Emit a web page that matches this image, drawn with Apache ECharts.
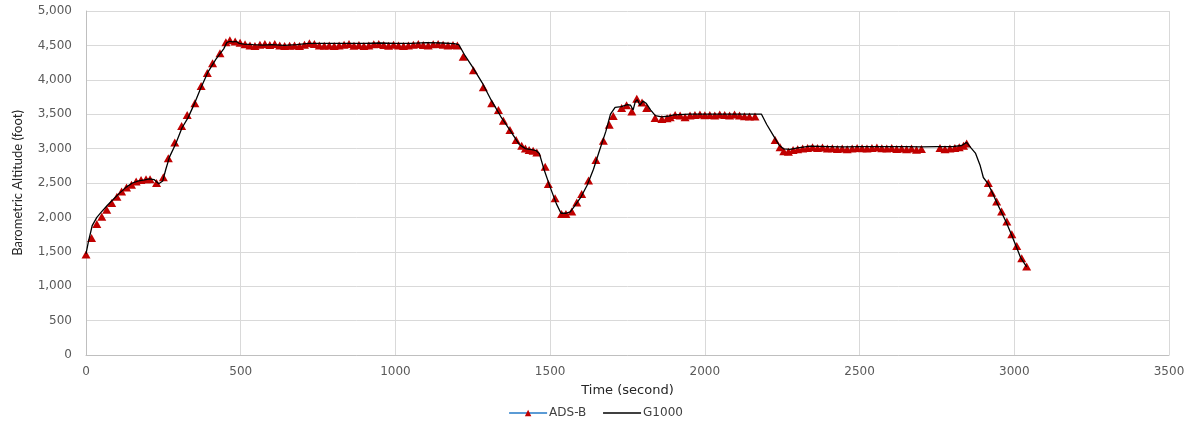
<!DOCTYPE html>
<html>
<head>
<meta charset="utf-8">
<script src="https://cdn.jsdelivr.net/npm/echarts@6/dist/echarts.min.js"></script>
<style>html,body{margin:0;padding:0;background:#fff;}#c{width:1191px;height:426px;}</style>
</head>
<body>
<div id="c"></div>
<script>
// ADS-B samples (time in seconds, barometric altitude in feet)
const adsbTime = [0,18,35,51,67,83,100,115,131,147,162,178,194,207,228,250,266,287,309,327,352,372,392,409,433,452,465,482,
498,514,530,546,562,578,594,610,626,642,658,674,690,706,722,738,754,770,786,802,818,834,850,866,882,898,914,930,946,962,978,994,1010,1026,1042,1058,1074,1090,1106,1122,1138,1154,1170,1186,1200,
1219,1252,1284,1311,1333,1349,1370,1390,1408,1420,1432,1445,1457,1484,1494,1516,1537,1551,1570,1586,1602,1624,1648,1672,1691,1704,1731,1747,1764,1780,1797,1812,1839,1861,1878,1888,1904,1920,1936,1952,1968,1984,2000,2016,2032,2048,2064,2080,2096,2112,2128,2144,2162,
2227,2243,2255,2270,2285,2300,2316,2332,2348,2364,2380,2396,2412,2428,2444,2460,2476,2492,2508,2524,2540,2556,2572,2588,2604,2620,2636,2652,2668,2684,2700,2760,2776,2792,2808,2822,2836,2846,
2916,2927,2943,2959,2976,2992,3008,3024,3040];
const adsbAlt = [1460,1700,1905,2010,2110,2210,2300,2375,2435,2475,2520,2545,2555,2555,2500,2585,2860,3090,3330,3490,3660,3910,4100,4240,4385,4545,4575,4555,
4540,4515,4500,4490,4510,4520,4505,4520,4500,4490,4495,4500,4490,4510,4530,4520,4500,4495,4500,4490,4500,4510,4520,4495,4505,4490,4500,4515,4520,4505,4495,4510,4500,4490,4500,4510,4520,4505,4500,4515,4520,4510,4500,4505,4500,
4335,4140,3890,3660,3560,3405,3270,3125,3040,3000,2980,2970,2945,2735,2485,2280,2050,2050,2085,2215,2340,2535,2835,3115,3345,3475,3590,3630,3540,3725,3670,3590,3445,3430,3440,3455,3490,3480,3455,3480,3490,3495,3485,3490,3480,3495,3490,3480,3495,3480,3470,3465,3465,
3125,3020,2960,2955,2980,2990,3000,3010,3020,3010,3015,3000,3005,2995,3000,2990,3000,3010,3005,3000,3010,3015,3005,3000,3010,2995,3000,2990,3000,2985,2995,3010,2990,3000,3010,3020,3040,3075,
2500,2360,2230,2085,1940,1755,1585,1405,1285];

// G1000 recorded trace
const g1000Time = [0,8,20,35,50,70,90,110,130,150,170,190,205,220,235,248,258,270,290,310,330,350,370,395,420,445,455,465,475,485,495,510,540,570,600,640,680,720,760,800,850,900,950,1000,1050,1100,1150,1190,1205,1225,1250,1280,1310,1340,1370,1400,1420,1440,1455,1465,1480,1500,1520,1535,1550,1565,1580,1600,1620,1640,1660,1680,1695,1710,1730,1750,1760,1768,1775,1782,1790,1800,1810,1825,1840,1860,1880,1900,1950,2000,2050,2100,2150,2183,2200,2220,2240,2255,2275,2300,2340,2400,2450,2500,2550,2600,2650,2700,2750,2800,2830,2846,2860,2875,2890,2900,2915,2930,2945,2960,2975,2990,3005,3020,3040];
const g1000Alt = [1470,1650,1880,2000,2080,2180,2270,2360,2440,2500,2530,2545,2560,2550,2490,2530,2700,2880,3070,3300,3450,3650,3870,4120,4300,4450,4540,4560,4550,4560,4530,4520,4510,4505,4510,4500,4510,4530,4530,4530,4530,4530,4535,4530,4530,4540,4535,4525,4510,4350,4180,3960,3700,3470,3270,3060,3000,2985,2970,2930,2700,2440,2200,2060,2060,2080,2170,2300,2470,2700,2980,3250,3500,3600,3610,3640,3630,3560,3680,3710,3630,3690,3660,3560,3480,3460,3470,3490,3500,3500,3500,3500,3500,3500,3350,3200,3050,2995,2990,3010,3035,3030,3025,3030,3030,3030,3030,3025,3030,3030,3045,3090,3010,2930,2750,2580,2490,2350,2200,2060,1920,1760,1590,1420,1280];

const yTicks = [0,500,1000,1500,2000,2500,3000,3500,4000,4500,5000];
const xTicks = [0,500,1000,1500,2000,2500,3000,3500];

const adsbData = adsbTime.map((t, i) => [t, adsbAlt[i]]);
const g1000Data = g1000Time.map((t, i) => [t, g1000Alt[i]]);

const chart = echarts.init(document.getElementById('c'), null, {renderer: 'canvas'});
const tickFont = 'DejaVu Sans';
chart.setOption({
  animation: false,
  backgroundColor: '#ffffff',
  grid: {left: 86, right: 22, top: 11, bottom: 71, containLabel: false},
  xAxis: {
    type: 'value', min: xTicks[0], max: xTicks[xTicks.length - 1], interval: 500,
    name: 'Time (second)', nameLocation: 'middle', nameGap: 29,
    nameTextStyle: {fontFamily: tickFont, fontSize: 13, color: '#262626'},
    axisLine: {show: true, lineStyle: {color: '#bfbfbf', width: 1}},
    axisTick: {show: false},
    axisLabel: {fontFamily: tickFont, fontSize: 12, color: '#595959', margin: 11,
      formatter: v => String(v)},
    splitLine: {show: true, lineStyle: {color: '#d9d9d9', width: 1}}
  },
  yAxis: {
    type: 'value', min: yTicks[0], max: yTicks[yTicks.length - 1], interval: 500,
    name: 'Barometric Altitude (foot)', nameLocation: 'middle', nameGap: 62,
    nameTextStyle: {fontFamily: 'Lato', fontSize: 13, color: '#262626'},
    axisLine: {show: true, lineStyle: {color: '#bfbfbf', width: 1}},
    axisTick: {show: false},
    axisLabel: {fontFamily: tickFont, fontSize: 12, color: '#595959', margin: 14,
      formatter: v => v.toLocaleString('en-US')},
    splitLine: {show: true, lineStyle: {color: '#d9d9d9', width: 1}}
  },
  legend: {
    bottom: 2, left: 'center', itemWidth: 38, itemHeight: 8, itemGap: 16,
    textStyle: {fontFamily: tickFont, fontSize: 12, color: '#404040', padding: [0,0,0,-3]},
    data: [
      {name: 'ADS-B', lineStyle: {color: '#5b9bd5', width: 2, opacity: 1}, itemStyle: {color: '#c00000', opacity: 1}},
      {name: 'G1000', lineStyle: {color: '#000000', width: 1.5, opacity: 1}, itemStyle: {opacity: 0}}
    ]
  },
  series: [
    {
      name: 'ADS-B', type: 'line', data: adsbData, z: 2,
      symbol: 'triangle', symbolSize: [9, 8], showAllSymbol: true,
      itemStyle: {color: '#c00000'},
      lineStyle: {color: '#5b9bd5', width: 0, opacity: 0}
    },
    {
      name: 'G1000', type: 'line', data: g1000Data, z: 3,
      symbol: 'none', lineStyle: {color: '#000000', width: 1.3},
      itemStyle: {color: '#000000'}
    }
  ]
});
</script>
</body>
</html>
